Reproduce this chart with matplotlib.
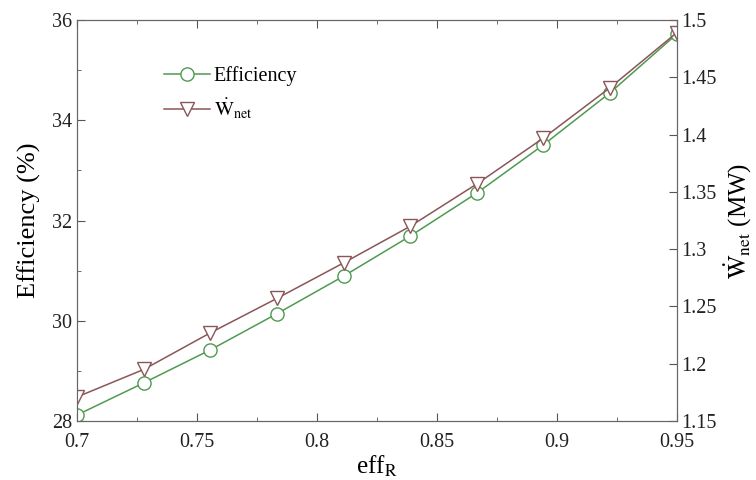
import numpy as np
import matplotlib
matplotlib.use('Agg')
import matplotlib.pyplot as plt
from matplotlib.ticker import MultipleLocator

plt.rcParams['font.family'] = ['Liberation Serif', 'DejaVu Serif']
plt.rcParams['mathtext.fontset'] = 'stix'

eff_r = [0.7, 0.7278, 0.7556, 0.7833, 0.8111, 0.8389, 0.8667, 0.8944, 0.9222, 0.95]
efficiency = [28.12, 28.76, 29.42, 30.14, 30.89, 31.69, 32.55, 33.51, 34.55, 35.72]
w_net = [1.171, 1.195, 1.227, 1.257, 1.288, 1.320, 1.357, 1.397, 1.441, 1.489]

green = '#4f9a50'
brown = '#8a5658'

fig = plt.figure(figsize=(7.56, 4.8), dpi=100)
ax = fig.add_axes([0.102, 0.123, 0.793, 0.835])
ax2 = ax.twinx()

l1, = ax.plot(eff_r, efficiency, color=green, lw=1.1, marker='o', ms=9.5,
              mfc='white', mec=green, mew=1.0, label='Efficiency')
l2, = ax2.plot(eff_r, w_net, color=brown, lw=1.1, marker='v', ms=10.5,
               mfc='white', mec=brown, mew=1.0, label=r'$\dot{\mathrm{W}}_{\mathrm{net}}$')

ax.set_xlim(0.7, 0.95)
ax.set_ylim(28, 36)
ax2.set_ylim(1.15, 1.5)

ax.xaxis.set_minor_locator(MultipleLocator(0.025))
ax.yaxis.set_major_locator(MultipleLocator(2))
ax.yaxis.set_minor_locator(MultipleLocator(1))

ax.set_xticks([0.7, 0.75, 0.8, 0.85, 0.9, 0.95])
ax.set_xticklabels(['0.7', '0.75', '0.8', '0.85', '0.9', '0.95'])
ax2.set_yticks([1.15, 1.2, 1.25, 1.3, 1.35, 1.4, 1.45, 1.5])
ax2.set_yticklabels(['1.15', '1.2', '1.25', '1.3', '1.35', '1.4', '1.45', '1.5'])

ax.tick_params(which='both', direction='in', top=True, labelsize=14.5, colors='#555555',
               labelcolor='#222222')
ax.tick_params(which='major', length=6)
ax.tick_params(which='minor', length=3)
ax.tick_params(axis='x', which='major', pad=9)
ax2.tick_params(which='both', direction='in', labelsize=14.5, length=6, colors='#555555',
                labelcolor='#222222')
for a in (ax, ax2):
    for s in a.spines.values():
        s.set_color('#666666')

ax.set_xlabel(r'eff$_{\mathrm{R}}$', fontsize=18, labelpad=1)
ax.set_ylabel('Efficiency (%)', fontsize=19, labelpad=8)
ax2.set_ylabel(r'$\dot{\mathrm{W}}_{\mathrm{net}}$ (MW)', fontsize=18, labelpad=4)

ax.legend(handles=[l1, l2], loc='upper left', bbox_to_anchor=(0.115, 0.93), frameon=False,
          fontsize=14.5, handlelength=2.3, handletextpad=0.15, labelspacing=0.55)

fig.savefig('out.png', dpi=100)
